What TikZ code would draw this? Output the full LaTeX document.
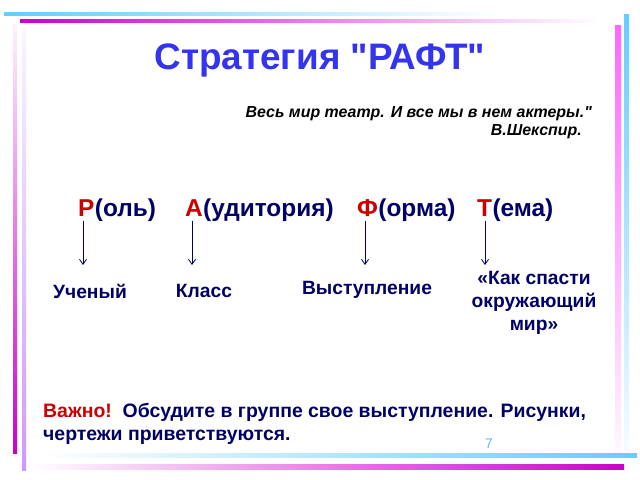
\documentclass[tikz,border=0pt]{standalone}
\usepackage{fontspec}
\setmainfont{Liberation Sans}[Ligatures=TeXReset]
\usetikzlibrary{arrows.meta}
\definecolor{cyanl}{RGB}{102,204,255}
\definecolor{mag}{RGB}{204,0,204}
\definecolor{pinkl}{RGB}{255,102,255}
\definecolor{lav}{RGB}{204,153,255}
\definecolor{navy}{RGB}{0,0,102}
\definecolor{redt}{RGB}{204,0,0}
\definecolor{titleblue}{RGB}{51,51,240}
\definecolor{pagenum}{RGB}{110,180,240}
\begin{document}
\begin{tikzpicture}[x=1bp,y=-1bp,
  txt/.style={inner sep=0pt, text=navy, font=\bfseries\fontsize{19.3}{23}\selectfont, anchor=base},
  rowtxt/.style={inner sep=0pt, text=navy, font=\bfseries\fontsize{24.5}{28}\selectfont, anchor=base west},
  letter/.style={rowtxt, text=redt},
  note/.style={inner sep=0pt, anchor=base west, text=navy, font=\bfseries\fontsize{19.5}{23}\selectfont},
  quotetxt/.style={anchor=base east, inner sep=0pt, font=\bfseries\itshape\fontsize{16}{19}\selectfont},
  arr/.style={draw=navy, line width=0.8bp, -{Straight Barb[length=5bp,width=7bp]}}]
\useasboundingbox[fill=white] (0,0) rectangle (640,480);
% border lines
\shade[left color=cyanl, middle color=cyanl!70, right color=white] (4,13) rectangle (500,16);
\shade[left color=mag, middle color=mag!50, right color=white] (20,20) rectangle (600,23);
\shade[top color=mag!5, bottom color=mag] (13,25) rectangle (17,453);
\shade[top color=lav!10, bottom color=lav] (22,30) rectangle (26,470);
\shade[top color=pinkl, bottom color=pinkl!5] (615,26) rectangle (621,452);
\shade[top color=cyanl, bottom color=cyanl!5] (624,15) rectangle (629,455);
\shade[left color=white, middle color=cyanl!60, right color=cyanl] (40,453) rectangle (637,457);
\shade[left color=white, middle color=mag!50, right color=mag] (30,464) rectangle (624,469);
% title
\node[anchor=base, inner sep=0pt, text=titleblue, font=\bfseries\fontsize{37}{43}\selectfont] (title) at (320,70) {Стратегия "РАФТ"};
% quote
\node[quotetxt] (quote) at (592,118) {Весь мир театр. И все мы в нем актеры."};
\node[quotetxt] (author) at (582,136) {В.Шекспир.};
% row
\node[letter] (R) at (78,217) {Р};
\node[rowtxt] (Rr) at (R.base east) {(оль)};
\node[letter] (A) at (185,217) {А};
\node[rowtxt] (Ar) at (A.base east) {(удитория)};
\node[letter] (F) at (357,217) {Ф};
\node[rowtxt] (Fr) at (F.base east) {(орма)};
\node[letter] (T) at (477,217) {Т};
\node[rowtxt] (Tr) at (T.base east) {(ема)};
% arrows
\coordinate (sR) at (83,221); \coordinate (eR) at (83,265);
\coordinate (sA) at (192,221); \coordinate (eA) at (192,265);
\coordinate (sF) at (365,221); \coordinate (eF) at (365,265);
\coordinate (sT) at (485,221); \coordinate (eT) at (485,265);
\draw[arr] (sR) -- (eR);
\draw[arr] (sA) -- (eA);
\draw[arr] (sF) -- (eF);
\draw[arr] (sT) -- (eT);
% labels
\node[txt] (l1) at (90,298) {Ученый};
\node[txt] (l2) at (204,297) {Класс};
\node[txt] (l3) at (367,294) {Выступление};
\node[txt] (l4a) at (534,284) {«Как спасти};
\node[txt] (l4b) at (534,307) {окружающий};
\node[txt] (l4c) at (534,330) {мир»};
% bottom text
\node[note] (note1) at (43,417) {{\color{redt}Важно!}\ \ Обсудите в группе свое выступление. Рисунки,};
\node[note] (note2) at (43,440) {чертежи приветствуются.};
\node[inner sep=0pt, anchor=base, text=pagenum, font=\fontsize{14}{16}\selectfont] (pn) at (489,448) {7};
\end{tikzpicture}
\end{document}
